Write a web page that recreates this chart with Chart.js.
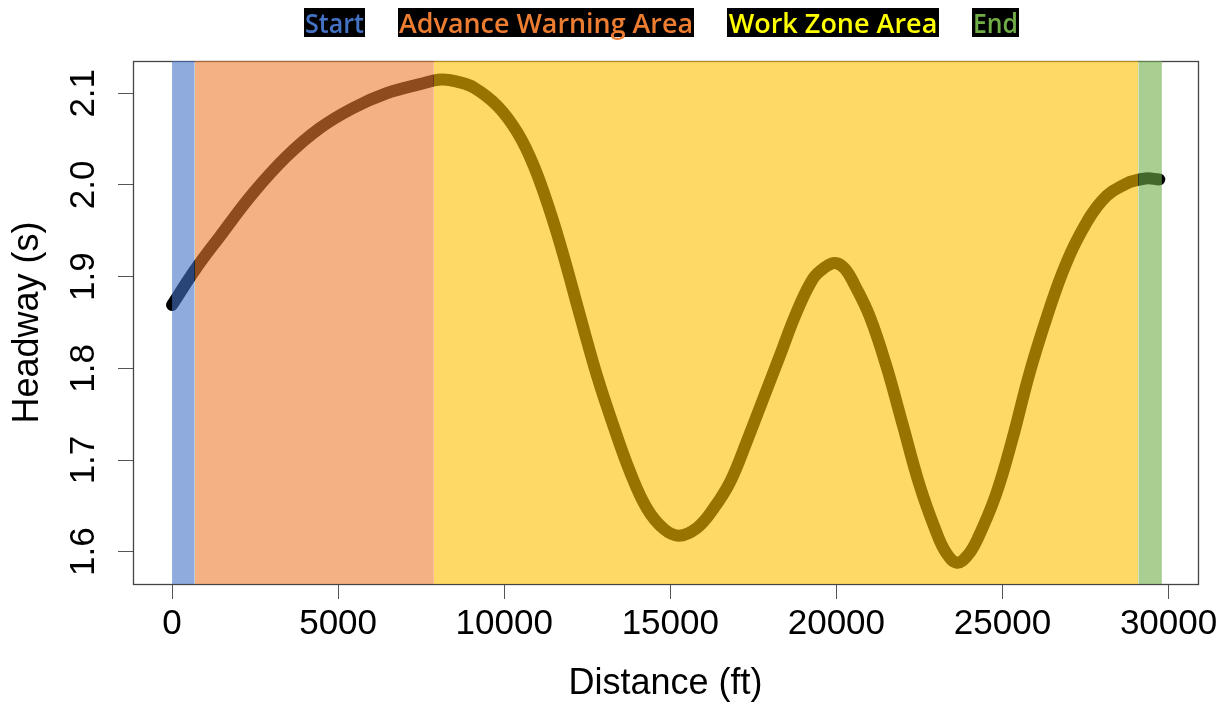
<!DOCTYPE html>
<html>
<head>
<meta charset="utf-8">
<script src="https://cdn.jsdelivr.net/npm/chart.js@4/dist/chart.umd.min.js"></script>
<style>
  html, body { margin: 0; padding: 0; background: #fff; }
  #wrap { width: 1230px; height: 706px; position: relative; }
</style>
</head>
<body>
<div id="wrap"><canvas id="grafico"></canvas></div>
<script>
// distancia (ft) y headway (s)
var distance = [0, 684, 1443, 2440, 3446, 4449, 5452, 6458, 7461, 8100, 8600, 9100, 9800,
  10400, 10900, 11400, 11800, 12300, 12800, 13300, 13800, 14300, 14800, 15250, 15800,
  16300, 16800, 17300, 17800, 18300, 18800, 19300, 19650, 19955, 20250, 20550, 21000, 21500, 22000,
  22500, 23000, 23300, 23630, 23950, 24250, 24800, 25300, 25800, 26300, 26800, 27300, 28000, 28700,
  29300, 29720];
var headway = [1.869, 1.907, 1.944, 1.991, 2.031, 2.062, 2.084, 2.100, 2.110, 2.115, 2.1125, 2.106, 2.086,
  2.057, 2.020, 1.969, 1.921, 1.855, 1.791, 1.736, 1.686, 1.647, 1.625, 1.6175, 1.626,
  1.647, 1.676, 1.720, 1.767, 1.814, 1.861, 1.898, 1.910, 1.915, 1.909, 1.891, 1.857, 1.803, 1.738,
  1.673, 1.622, 1.599, 1.588, 1.596, 1.614, 1.662, 1.723, 1.793, 1.852, 1.904, 1.944, 1.983, 2.001,
  2.007, 2.006];

// zonas
var zoneNames = ["Start", "Advance Warning Area", "Work Zone Area", "End"];
var zoneStart = [0, 684, 7883, 29087];
var zoneEnd = [684, 7883, 29087, 29800];
var zoneFill = ["rgba(68,114,196,0.6)", "rgba(237,125,49,0.6)", "rgba(255,192,0,0.6)", "rgba(112,173,71,0.6)"];
var zoneText = ["#4472C4", "#ED7D31", "#FFFF00", "#70AD47"];

var xTicks = [0, 5000, 10000, 15000, 20000, 25000, 30000];
var yTicks = [1.6, 1.7, 1.8, 1.9, 2.0, 2.1];
var xMin = -1175, xMax = 30886;
var yMin = 1.5648, yMax = 2.1352;

var curva = [];
for (var i in distance) {
  curva.push({x: distance[i], y: headway[i]});
}

var datasets = [{
  label: "Headway",
  data: curva,
  borderColor: "#000",
  borderWidth: 12,
  borderCapStyle: "round",
  borderJoinStyle: "round",
  pointRadius: 0,
  tension: 0.4,
  fill: false,
  order: 1
}];

for (var z = 0; z < zoneNames.length; z++) {
  datasets.push({
    label: zoneNames[z],
    data: [{x: zoneStart[z], y: yMax}, {x: zoneEnd[z], y: yMax}],
    borderWidth: 0,
    pointRadius: 0,
    backgroundColor: zoneFill[z],
    fill: "start",
    order: 0
  });
}

// caja del grafico, se dibuja antes de las zonas
var cajaPlugin = {
  id: "caja",
  beforeDatasetsDraw: function(chart) {
    var a = chart.chartArea, ctx = chart.ctx;
    ctx.save();
    ctx.strokeStyle = "#444";
    ctx.lineWidth = 1.3;
    ctx.strokeRect(Math.round(a.left) + 0.5, Math.round(a.top) + 0.5,
      Math.round(a.right - a.left), Math.round(a.bottom - a.top));
    ctx.restore();
  }
};

// leyenda de arriba: texto de color sobre fondo negro
var leyendaPlugin = {
  id: "leyenda",
  afterDraw: function(chart) {
    var ctx = chart.ctx;
    var boxX = [304, 398, 727, 972];
    var boxW = [61, 296, 212, 47];
    ctx.save();
    ctx.font = "600 27px 'Open Sans'";
    ctx.textBaseline = "alphabetic";
    ctx.textAlign = "center";
    for (var k = 0; k < zoneNames.length; k++) {
      ctx.fillStyle = "#000";
      ctx.fillRect(boxX[k], 8, boxW[k], 29);
      ctx.fillStyle = zoneText[k];
      ctx.fillText(zoneNames[k], boxX[k] + boxW[k] / 2, 33, boxW[k] - 2);
    }
    ctx.restore();
  }
};

var ctx = document.getElementById("grafico");
var chart = new Chart(ctx, {
  type: "line",
  data: { datasets: datasets },
  options: {
    responsive: true,
    maintainAspectRatio: false,
    animation: false,
    layout: { padding: { left: 0, top: 61, right: 32, bottom: 0 } },
    plugins: {
      legend: { display: false },
      tooltip: { enabled: false },
      filler: { propagate: false }
    },
    scales: {
      x: {
        type: "linear",
        min: xMin,
        max: xMax,
        afterFit: function(s) { s.height = 122; },
        afterBuildTicks: function(s) { s.ticks = xTicks.map(function(v) { return {value: v}; }); },
        ticks: {
          color: "#000",
          padding: 4,
          maxRotation: 0,
          font: { family: "'Liberation Sans', Arial", size: 35 },
          callback: function(v) { return String(v); }
        },
        grid: { drawOnChartArea: false, drawTicks: true, tickLength: 15, color: "#555" },
        border: { display: false },
        title: {
          display: true,
          text: "Distance (ft)",
          color: "#000",
          padding: { top: 0, bottom: 0 },
          font: { family: "'Liberation Sans', Arial", size: 36 }
        }
      },
      y: {
        type: "linear",
        min: yMin,
        max: yMax,
        afterFit: function(s) { s.width = 133; },
        afterBuildTicks: function(s) { s.ticks = yTicks.map(function(v) { return {value: v}; }); },
        ticks: {
          color: "#000",
          padding: 9,
          minRotation: 90,
          maxRotation: 90,
          crossAlign: "center",
          font: { family: "'Liberation Sans', Arial", size: 35 },
          callback: function(v) { return v.toFixed(1); }
        },
        grid: { drawOnChartArea: false, drawTicks: true, tickLength: 15, color: "#555" },
        border: { display: false },
        title: {
          display: true,
          text: "Headway (s)",
          color: "#000",
          padding: { top: 6, bottom: 0 },
          font: { family: "'Liberation Sans', Arial", size: 36 }
        }
      }
    }
  },
  plugins: [cajaPlugin, leyendaPlugin]
});
</script>
</body>
</html>
